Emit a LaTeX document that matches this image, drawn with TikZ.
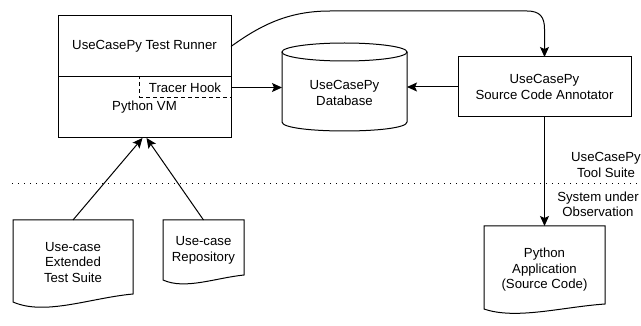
\documentclass[tikz,border=0pt]{standalone}
\usepackage{fontspec}
\setmainfont{Liberation Sans}
\usetikzlibrary{arrows.meta,calc}
\begin{document}
\begin{tikzpicture}[x=1pt,y=-1pt,
  every node/.style={font=\fontsize{13.2}{15.5}\selectfont, inner sep=0pt, outer sep=0pt},
  line/.style={line width=1pt},
  box/.style={draw, line width=1pt, rectangle, align=center},
  hookbox/.style={draw, fill=white, line width=1pt, dash pattern=on 4pt off 3pt},
  area/.style={rectangle, draw=none, align=center},
  lbl/.style={align=center},
  flow/.style={line width=1pt, -{Stealth[length=10pt,width=9pt,inset=2pt]}},
  sep/.style={line width=0.9pt, dash pattern=on 1.2pt off 4.8pt},
]
\useasboundingbox (0,0) rectangle (641,326);

% test runner on top of the Python VM
\node[box, minimum width=173pt, minimum height=61pt] (runner) at (144.5,46.5) {UseCasePy Test Runner};
\node[box, minimum width=173pt, minimum height=61pt] (vm) at (144.5,107.5) {Python VM};
\node[hookbox, minimum width=92pt, minimum height=21pt] (hook) at (185,87.5) {Tracer Hook};

% database cylinder
\draw[line, fill=white] (282,52) -- (282,122) .. controls (282,134) and (407,134) .. (407,122) -- (407,52);
\draw[line, fill=white] (344.5,52) ellipse [x radius=62.5, y radius=9];
\node[area, minimum width=125pt, minimum height=60pt] (db) at (344.5,93) {UseCasePy\\Database};

% annotator
\node[box, minimum width=173pt, minimum height=60pt] (annot) at (544.5,87) {UseCasePy\\Source Code Annotator};

% document shapes (body areas; outlines drawn below)
\node[area, minimum width=120pt, minimum height=82pt] (ets) at (73,261) {};
\node[area, minimum width=81pt, minimum height=60pt] (repo) at (203.5,250) {};
\node[area, minimum width=121pt, minimum height=83pt] (app) at (544.5,267.5) {};

\draw[line, fill=white] (ets.north west) -- (ets.north east) -- ($(ets.south east)+(0,-8)$)
  .. controls +(-43,4) and +(32,14) .. (ets.south west) -- cycle;
\draw[line, fill=white] (repo.north west) -- (repo.north east) -- ($(repo.south east)+(0,-5)$)
  .. controls +(-29,3) and +(22,10) .. (repo.south west) -- cycle;
\draw[line, fill=white] (app.north west) -- (app.north east) -- ($(app.south east)+(0,-5)$)
  .. controls +(-43,3) and +(32,11) .. (app.south west) -- cycle;

\node[lbl] (etsText) at (73,262.5) {Use-case\\Extended\\Test Suite};
\node[lbl] (repoText) at (203.5,250.5) {Use-case\\Repository};
\node[lbl] (appText) at (544.5,270) {Python\\Application\\(Source Code)};

% boundary between tool suite and observed system
\coordinate (sepL) at (12,183);
\coordinate (sepR) at (641,183);
\draw[sep] (sepL) -- (sepR);
\node[lbl] (toolLbl) at (606,165) {UseCasePy\\Tool Suite};
\node[lbl] (sysLbl) at (598,204.5) {System under\\Observation};

% connectors
\draw[flow] (runner.east) .. controls (262,24) and (290,11) .. (330,11) -- (527,11)
  .. controls (540,11) and (544.5,17) .. (544.5,29) -- (annot.north);
\draw[flow] (hook.east) -- (hook.east -| db.west);
\draw[flow] (annot.west) -- (annot.west -| db.east);
\draw[flow] (annot.south) -- (app.north);
\draw[flow] (ets.north) -- ([xshift=-2pt]vm.south);
\draw[flow] (repo.north) -- ([xshift=2pt]vm.south);
\end{tikzpicture}
\end{document}
